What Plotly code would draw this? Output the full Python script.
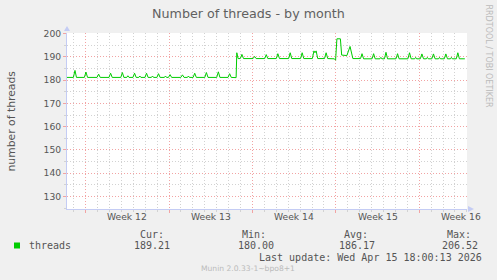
import pandas as pd
import plotly.graph_objects as go

# ---------------- data ----------------
week_starts = ["2026-03-16", "2026-03-23", "2026-03-30", "2026-04-06", "2026-04-13"]
week_labels = ["Week 12", "Week 13", "Week 14", "Week 15", "Week 16"]
origin = "2026-03-16"          # day offsets below are counted from this date
x_range_days = [-1.566, 32.01]
y_range = [124.6, 200.3]
y_ticks = [130, 140, 150, 160, 170, 180, 190, 200]

day_offset = [
    -1.566, -1.03, -0.896, -0.77, -0.11, 0.025, 0.16, 0.95, 1.089, 1.22,
    1.96, 2.094, 2.23, 2.95, 3.082, 3.21, 3.45, 3.543, 3.64, 3.97,
    4.104, 4.24, 4.46, 4.548, 4.64, 4.98, 5.109, 5.24, 5.52, 5.611,
    5.70, 5.98, 6.114, 6.25, 6.61, 6.70, 6.79, 6.95, 7.085, 7.22,
    7.99, 8.124, 8.26, 8.54, 8.626, 8.71, 9.02, 9.154, 9.29, 10.00,
    10.134, 10.27, 11.00, 11.139, 11.27, 11.95, 12.085, 12.22, 12.630, 12.688,
    12.797, 12.98, 13.116, 13.25, 14.05, 14.179, 14.31, 15.03, 15.159, 15.29,
    16.00, 16.131, 16.27, 17.04, 17.169, 17.30, 18.04, 18.174, 18.31, 19.03,
    19.163, 19.246, 19.347, 19.48, 20.05, 20.184, 20.32, 20.879, 20.980, 21.089,
    21.382, 21.491, 21.926, 22.194, 22.429, 23.07, 23.199, 23.33, 24.04, 24.171,
    24.30, 24.70, 24.78, 24.86, 25.08, 25.209, 25.34, 26.05, 26.181, 26.31,
    27.05, 27.186, 27.32, 27.62, 27.70, 27.78, 28.09, 28.224, 28.36, 28.60,
    28.68, 28.76, 29.06, 29.196, 29.33, 29.62, 29.70, 29.78, 30.10, 30.235,
    30.37, 30.62, 30.70, 30.78, 31.11, 31.240, 31.37, 31.826,
]
threads = [
    181.2, 181.2, 184.2, 181.2, 181.2, 183.5, 181.2, 181.2, 182.6, 181.2,
    181.2, 183.0, 181.2, 181.2, 183.3, 181.2, 181.2, 181.9, 181.2, 181.2,
    183.0, 181.2, 181.2, 181.8, 181.2, 181.2, 183.0, 181.2, 181.2, 181.8,
    181.2, 181.2, 182.8, 181.2, 181.2, 181.8, 181.2, 181.2, 182.4, 181.2,
    181.2, 182.3, 181.2, 181.2, 181.8, 181.2, 181.2, 183.0, 181.2, 181.2,
    183.3, 181.2, 181.2, 183.6, 181.2, 181.2, 182.8, 181.2, 181.1, 191.8,
    189.3, 189.3, 191.1, 189.3, 189.3, 190.2, 189.3, 189.3, 191.0, 189.3,
    189.3, 191.4, 189.3, 189.3, 191.8, 189.3, 189.3, 191.8, 189.3, 189.3,
    192.6, 191.8, 192.6, 189.3, 189.3, 191.8, 189.3, 189.2, 188.6, 197.8,
    197.8, 190.8, 190.6, 194.5, 189.3, 189.3, 191.4, 189.2, 189.2, 191.4,
    189.2, 189.2, 189.8, 189.2, 189.2, 192.0, 189.2, 189.2, 191.4, 189.2,
    189.2, 191.8, 189.2, 189.2, 189.8, 189.2, 189.2, 191.3, 189.2, 189.2,
    189.8, 189.2, 189.2, 191.3, 189.2, 189.2, 189.8, 189.2, 189.2, 191.3,
    189.2, 189.2, 189.8, 189.2, 189.2, 191.8, 189.2, 189.2,
]

series_name = "threads"
stat_labels = ["Cur:", "Min:", "Avg:", "Max:"]
stat_values = ["189.21", "180.00", "186.17", "206.52"]
title_text = "Number of threads - by month"
y_title = "number of threads"
last_update = "Last update: Wed Apr 15 18:00:13 2026"
footer = "Munin 2.0.33-1~bpo8+1"
side_text = "RRDTOOL / TOBI OETIKER"

# ---------------- build ----------------
t0 = pd.Timestamp(origin)
x_time = t0 + pd.to_timedelta(day_offset, unit="D")
x_rng = [t0 + pd.to_timedelta(d, unit="D") for d in x_range_days]
wk = pd.to_datetime(week_starts)
wk_mid = wk + pd.Timedelta(days=3.5)

W, H = 497, 280
ML, MR, MT, MB = 67, 30, 33, 71
PW, PH = W - ML - MR, H - MT - MB


def px(x):
    return (x - ML) / PW


def py(y):
    return (H - MB - y) / PH


GREEN = "#00CC00"
TXT = "#555555"
RED = "#F2A3A3"
GREY = "#D2D2D2"
AXIS = "#C4CCF4"

fig = go.Figure()
fig.add_trace(go.Scatter(
    x=x_time, y=threads, mode="lines", name=series_name,
    line=dict(color=GREEN, width=1), showlegend=False, hoverinfo="skip",
))

fig.update_layout(
    width=W, height=H,
    margin=dict(l=ML, r=MR, t=MT, b=MB, pad=0),
    paper_bgcolor="#F0F0F0", plot_bgcolor="#FFFFFF",
    font=dict(family="DejaVu Sans", size=9.2, color=TXT),
    showlegend=False,
)

fig.update_xaxes(
    type="date", range=x_rng,
    tickvals=wk, ticktext=[""] * len(wk),
    showgrid=True, gridcolor=RED, griddash="1px,2px", gridwidth=1,
    ticks="outside", ticklen=3, tickcolor=RED,
    showline=True, linecolor=AXIS, linewidth=1,
    zeroline=False,
    minor=dict(dtick=86400000, tick0=origin, showgrid=True, gridcolor=GREY,
               griddash="1px,2px", ticks="outside", ticklen=2, tickcolor=GREY),
)
fig.update_yaxes(
    range=y_range, tickvals=y_ticks,
    showgrid=True, gridcolor=RED, griddash="1px,2px", gridwidth=1,
    ticks="outside", ticklen=3, tickcolor=RED,
    showline=True, linecolor=AXIS, linewidth=1,
    zeroline=False,
    tickfont=dict(family="DejaVu Sans", size=9.2, color=TXT),
    minor=dict(dtick=5, tick0=0, showgrid=True, gridcolor=GREY,
               griddash="1px,2px", ticks="outside", ticklen=2, tickcolor=GREY),
)

ann = []
for xm, lab in zip(wk_mid, week_labels):
    ann.append(dict(x=xm, y=py(216.7), xref="x", yref="paper", text=lab,
                    showarrow=False, xanchor="center", yanchor="middle",
                    font=dict(family="DejaVu Sans", size=9.2, color=TXT)))

ann.append(dict(x=px(248.4), y=py(13.5), xref="paper", yref="paper", text=title_text,
                showarrow=False, xanchor="center", yanchor="middle",
                font=dict(family="DejaVu Sans", size=12.7, color="#606060")))
ann.append(dict(x=px(10.5), y=py(121), xref="paper", yref="paper", text=y_title,
                showarrow=False, xanchor="center", yanchor="middle", textangle=-90,
                font=dict(family="DejaVu Sans", size=10.8, color=TXT)))
ann.append(dict(x=px(488.5), y=py(56), xref="paper", yref="paper", text=side_text,
                showarrow=False, xanchor="center", yanchor="middle", textangle=90,
                font=dict(family="DejaVu Sans", size=8, color="#BBBBBB")))

MONO = "DejaVu Sans Mono"
ann.append(dict(x=px(27), y=py(245.7), xref="paper", yref="paper", text=series_name,
                showarrow=False, xanchor="left", yanchor="middle",
                font=dict(family=MONO, size=10, color=TXT)))
head_cx = [151.5, 254.2, 356.3, 458.5]
val_cx = [152.2, 255.5, 357.2, 459.5]
for hx, vx, hl, vl in zip(head_cx, val_cx, stat_labels, stat_values):
    ann.append(dict(x=px(hx), y=py(234), xref="paper", yref="paper", text=hl,
                    showarrow=False, xanchor="center", yanchor="middle",
                    font=dict(family=MONO, size=10, color=TXT)))
    ann.append(dict(x=px(vx), y=py(245.7), xref="paper", yref="paper", text=vl,
                    showarrow=False, xanchor="center", yanchor="middle",
                    font=dict(family=MONO, size=10, color=TXT)))
ann.append(dict(x=px(484), y=py(257.7), xref="paper", yref="paper", text=last_update,
                showarrow=False, xanchor="right", yanchor="middle",
                font=dict(family=MONO, size=10, color=TXT)))
ann.append(dict(x=px(248), y=py(268.7), xref="paper", yref="paper", text=footer,
                showarrow=False, xanchor="center", yanchor="middle",
                font=dict(family="DejaVu Sans", size=7.6, color="#BBBBBB")))
fig.update_layout(annotations=ann)

# legend swatch and axis arrowheads (style only)
shapes = [
    dict(type="rect", xref="paper", yref="paper",
         x0=px(14), x1=px(20), y0=py(248.5), y1=py(242.5),
         fillcolor=GREEN, line=dict(width=0)),
    dict(type="path", xref="paper", yref="paper",
         path=f"M {px(64)} {py(31)} L {px(70)} {py(31)} L {px(67)} {py(26)} Z",
         fillcolor=AXIS, line=dict(width=0)),
    dict(type="path", xref="paper", yref="paper",
         path=f"M {px(468)} {py(206)} L {px(468)} {py(212)} L {px(474)} {py(209)} Z",
         fillcolor=AXIS, line=dict(width=0)),
]
fig.update_layout(shapes=shapes)

fig.write_html("out.html")
